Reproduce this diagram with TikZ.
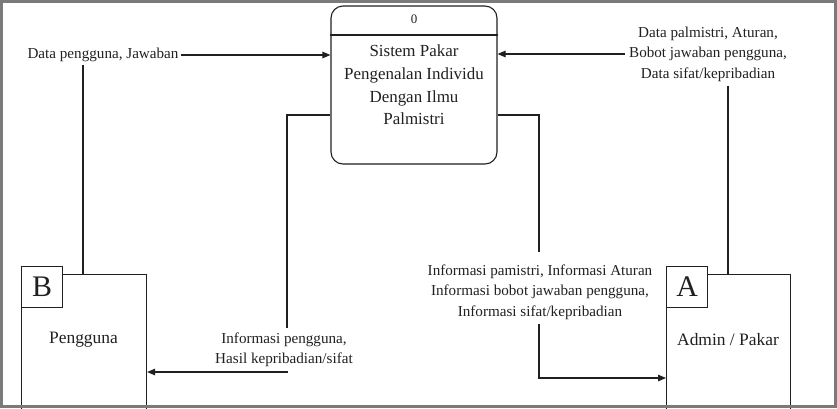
\documentclass[tikz,border=0pt]{standalone}
\usepackage{fontspec}
\setmainfont{Liberation Serif}
\usetikzlibrary{arrows.meta}
\definecolor{framegray}{HTML}{7A7A7A}
\definecolor{ink}{HTML}{202020}
\begin{document}
\begin{tikzpicture}[x=1bp,y=-1bp, line width=1.1bp, color=ink,
  arr/.style={-{Triangle[length=8bp,width=6.5bp]}},
  procbox/.style={draw=ink, rounded corners=12bp, minimum width=166bp, minimum height=158bp, inner sep=0pt, fill=white},
  proctext/.style={font=\fontsize{17}{22.7}\selectfont, align=center, inner sep=0pt, text=ink},
  lbl/.style={font=\fontsize{15.2}{20.5}\selectfont, align=center, inner sep=4bp, text=ink},
  entbox/.style={draw=ink, minimum width=125bp, minimum height=170bp, inner sep=0pt, anchor=north west, fill=white},
  idbox/.style={draw=ink, minimum width=41bp, minimum height=41bp, inner sep=0pt, anchor=north west, fill=white, font=\fontsize{30}{30}\selectfont, text=ink},
  enttext/.style={font=\fontsize{17.5}{20}\selectfont, inner sep=0pt, text=ink},
  frame/.style={draw=framegray, line width=3bp}
]
\useasboundingbox (0,0) rectangle (837,408);
\begin{scope}
\clip (0,0) rectangle (837,408);
% process
\node[procbox] (proc) at (414,85) {};
\coordinate (dv) at (0,35);
\draw (proc.west |- dv) -- (proc.east |- dv);
\node[font=\fontsize{13}{13}\selectfont, inner sep=0pt, text=ink] (pid) at (414,19) {0};
\node[proctext] (ptxt) at (414,85) {Sistem Pakar\\Pengenalan Individu\\Dengan Ilmu\\Palmistri};
% entities
\node[entbox, minimum width=125bp] (ub) at (21,274) {};
\node[idbox] (ubid) at (21,266) {B};
\node[enttext] (ut) at (83.5,340) {Pengguna};
\node[entbox, minimum width=124bp] (ab) at (666,274) {};
\node[idbox] (abid) at (666,266) {A};
\node[enttext] (at) at (728,340) {Admin / Pakar};
% labels
\node[lbl, anchor=west, inner sep=0pt] (l1) at (27,55) {Data pengguna, Jawaban};
\node[lbl] (l2) at (708,54) {Data palmistri, Aturan,\\Bobot jawaban pengguna,\\Data sifat/kepribadian};
\node[lbl] (l3) at (284,349.5) {Informasi pengguna,\\Hasil kepribadian/sifat};
\node[lbl] (l4) at (540,292) {Informasi pamistri, Informasi Aturan\\Informasi bobot jawaban pengguna,\\Informasi sifat/kepribadian};
% coordinates
\coordinate (c1) at (83,0);
\coordinate (c2) at (728,0);
\coordinate (c3) at (287,115);
\coordinate (c4) at (0,372);
\coordinate (c5) at (539,115);
\coordinate (c6) at (0,378);
% connectors
\draw (ub.north -| c1) -- ([yshift=-3bp]l1.south -| c1);
\draw[arr] ([xshift=2bp]l1.east) -- (proc.west |- l1.east);
\draw (ab.north -| c2) -- (l2.south -| c2);
\draw[arr] (l2.west) -- (proc.east |- l2.west);
\draw (proc.west |- c3) -| (l3.north -| c3);
\draw[arr] (l3.south -| c3) |- (ub.east |- c4);
\draw[shorten >=8bp] (proc.east |- c5) -| (l4.north -| c5);
\draw[arr] (l4.south -| c5) |- (ab.west |- c6);
\end{scope}
\draw[frame] (1.5,1.5) rectangle (835.5,406.5);
\end{tikzpicture}
\end{document}
